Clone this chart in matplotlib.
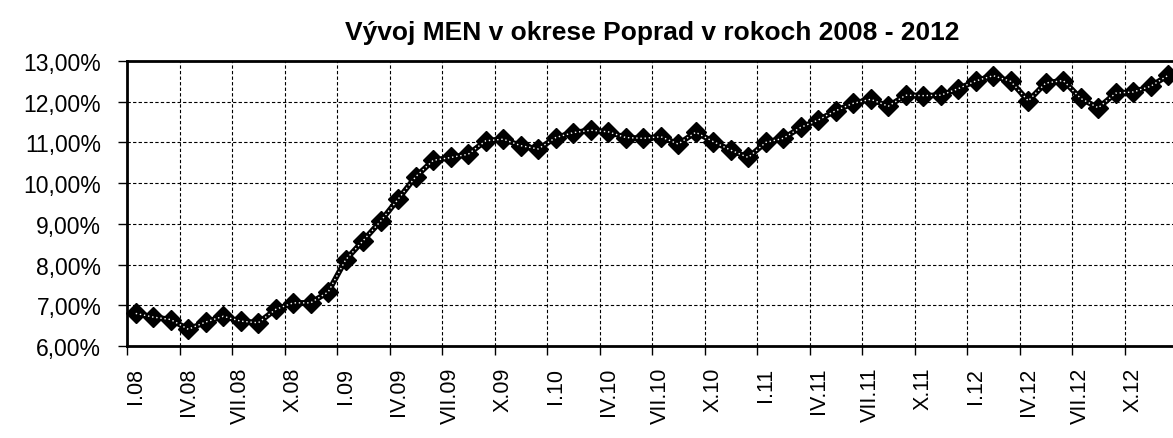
import numpy as np
import matplotlib.pyplot as plt
from matplotlib.ticker import FixedLocator, FuncFormatter

plt.rcParams['font.family'] = ['Liberation Sans', 'DejaVu Sans']

roman = ['I', 'II', 'III', 'IV', 'V', 'VI', 'VII', 'VIII', 'IX', 'X', 'XI', 'XII']
years = ['08', '09', '10', '11', '12']
months = [m + '.' + y for y in years for m in roman]

# MEN (miera evidovanej nezamestnanosti) in %, monthly I.08 - XII.12
men = [6.80, 6.71, 6.65, 6.41, 6.59, 6.73, 6.61, 6.57, 6.90, 7.06, 7.06, 7.33,
       8.12, 8.59, 9.07, 9.61, 10.16, 10.56, 10.63, 10.71, 11.04, 11.08, 10.92, 10.84,
       11.12, 11.24, 11.30, 11.26, 11.12, 11.10, 11.14, 10.96, 11.25, 11.02, 10.81, 10.63,
       11.00, 11.10, 11.37, 11.55, 11.78, 11.96, 12.06, 11.89, 12.16, 12.15, 12.16, 12.32,
       12.51, 12.64, 12.50, 12.02, 12.46, 12.52, 12.08, 11.85, 12.21, 12.24, 12.38, 12.65]

x = np.arange(len(months))

fig = plt.figure(figsize=(11.73, 4.39), dpi=100)
ax = fig.add_axes([127/1173, 1 - 347/439, 1050/1173, 285/439])

ax.plot(x, men, color='black', linewidth=4, marker='D', markersize=10.5, zorder=3, clip_on=False)
ax.plot(x, men, color='white', linewidth=1, linestyle=(0, (1, 2)), zorder=4, clip_on=False)

ax.set_xlim(-0.5, len(months) - 0.5)
ax.set_ylim(6, 13)
ax.set_yticks(np.arange(6, 13.1, 1))
ax.yaxis.set_major_formatter(FuncFormatter(lambda v, p: ('%.2f%%' % v).replace('.', ',')))

# ticks between categories, labels on every third category
ax.xaxis.set_major_locator(FixedLocator(np.arange(-0.5, len(months), 3)))
ax.xaxis.set_minor_locator(FixedLocator(x[::3]))
ax.set_xticklabels([])
ax.set_xticklabels(months[::3], minor=True, rotation=90, va='top')
ax.tick_params(axis='x', which='major', length=6.5, width=1, direction='out')
ax.tick_params(axis='x', which='minor', length=0, labelsize=15.5, pad=15)
ax.tick_params(axis='y', length=6.5, width=1, labelsize=16.5, pad=12)

ax.grid(True, which='major', color='black', linestyle=(0, (3, 2)), linewidth=0.8)
for s in ax.spines.values():
    s.set_linewidth(2)

ax.set_title('Vývoj MEN v okrese Poprad v rokoch 2008 - 2012', fontsize=19,
             fontweight='bold', pad=16)

fig.savefig('out.png', dpi=100)
